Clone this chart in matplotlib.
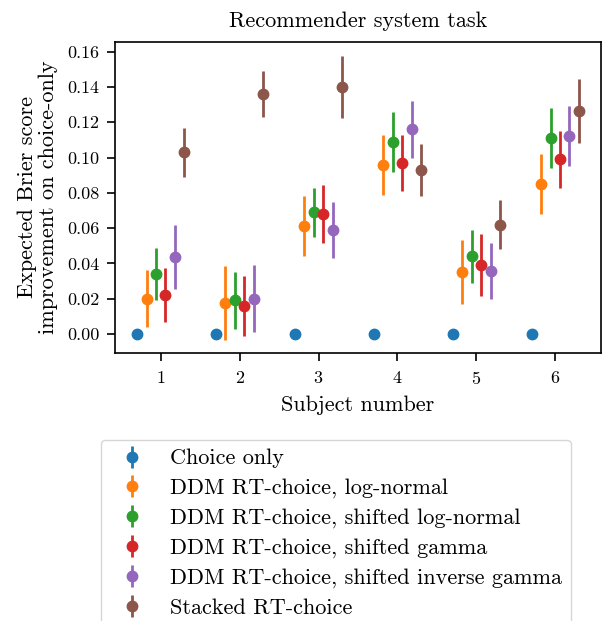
import matplotlib
matplotlib.use("Agg")
import matplotlib.pyplot as plt
import numpy as np

plt.rcParams['font.family'] = ['cmr10', 'DejaVu Serif']
plt.rcParams['axes.formatter.use_mathtext'] = True
plt.rcParams['mathtext.fontset'] = 'cm'

subjects = [1, 2, 3, 4, 5, 6]
series_names = [
    "Choice only",
    "DDM RT-choice, log-normal",
    "DDM RT-choice, shifted log-normal",
    "DDM RT-choice, shifted gamma",
    "DDM RT-choice, shifted inverse gamma",
    "Stacked RT-choice",
]
choice_only = [0.0, 0.0, 0.0, 0.0, 0.0, 0.0]
choice_only_err = [0.0, 0.0, 0.0, 0.0, 0.0, 0.0]
lognormal = [0.020, 0.0175, 0.061, 0.096, 0.035, 0.085]
lognormal_err = [0.016, 0.021, 0.017, 0.017, 0.018, 0.017]
shifted_lognormal = [0.034, 0.019, 0.069, 0.109, 0.044, 0.111]
shifted_lognormal_err = [0.015, 0.016, 0.014, 0.017, 0.015, 0.017]
shifted_gamma = [0.022, 0.016, 0.068, 0.097, 0.039, 0.099]
shifted_gamma_err = [0.0155, 0.017, 0.0165, 0.016, 0.0177, 0.016]
shifted_invgamma = [0.0435, 0.020, 0.059, 0.116, 0.0357, 0.112]
shifted_invgamma_err = [0.018, 0.019, 0.016, 0.0163, 0.016, 0.017]
stacked = [0.103, 0.136, 0.140, 0.093, 0.062, 0.1265]
stacked_err = [0.014, 0.013, 0.0173, 0.0147, 0.014, 0.018]
ytick_values = [0.00, 0.02, 0.04, 0.06, 0.08, 0.10, 0.12, 0.14, 0.16]

values = [choice_only, lognormal, shifted_lognormal, shifted_gamma, shifted_invgamma, stacked]
errors = [choice_only_err, lognormal_err, shifted_lognormal_err, shifted_gamma_err,
          shifted_invgamma_err, stacked_err]
colors = ['#1f77b4', '#ff7f0e', '#2ca02c', '#d62728', '#9467bd', '#8c564b']

fig = plt.figure(figsize=(6.03, 6.21), dpi=100)
ax = fig.add_axes([115/603, 1 - 353/621, (601 - 115)/603, (353 - 42)/621])

x = np.array(subjects, dtype=float)
n = len(values)
width = 0.12
for i, (v, e, name, c) in enumerate(zip(values, errors, series_names, colors)):
    off = (i - (n - 1) / 2) * width
    ax.errorbar(x + off, v, yerr=e, fmt='o', color=c, markersize=7.5,
                elinewidth=2, label=name)

ax.set_xticks(subjects)
ax.set_yticks(ytick_values)
ax.set_yticklabels([f"{t:.2f}" for t in ytick_values])
ax.set_ylim(-0.0108, 0.1655)
ax.tick_params(direction='out', length=6, width=1.2, labelsize=13)
ax.tick_params(axis='y', pad=5)
ax.tick_params(axis='x', pad=6)
for s in ax.spines.values():
    s.set_linewidth(1.2)
ax.set_xlabel("Subject number", fontsize=16, labelpad=6)
ax.set_ylabel("Expected Brier score\nimprovement on choice-only", fontsize=16,
              labelpad=7, linespacing=1.05)
ax.set_title("Recommender system task", fontsize=16, pad=11)

leg = ax.legend(loc='upper left', bbox_to_anchor=(101/603, 1 - 440/621),
                bbox_transform=fig.transFigure, borderaxespad=0,
                fontsize=16, handlelength=2.0,
                handletextpad=0.7, borderpad=0.4, labelspacing=0.45)

fig.savefig("out.png", dpi=100)
